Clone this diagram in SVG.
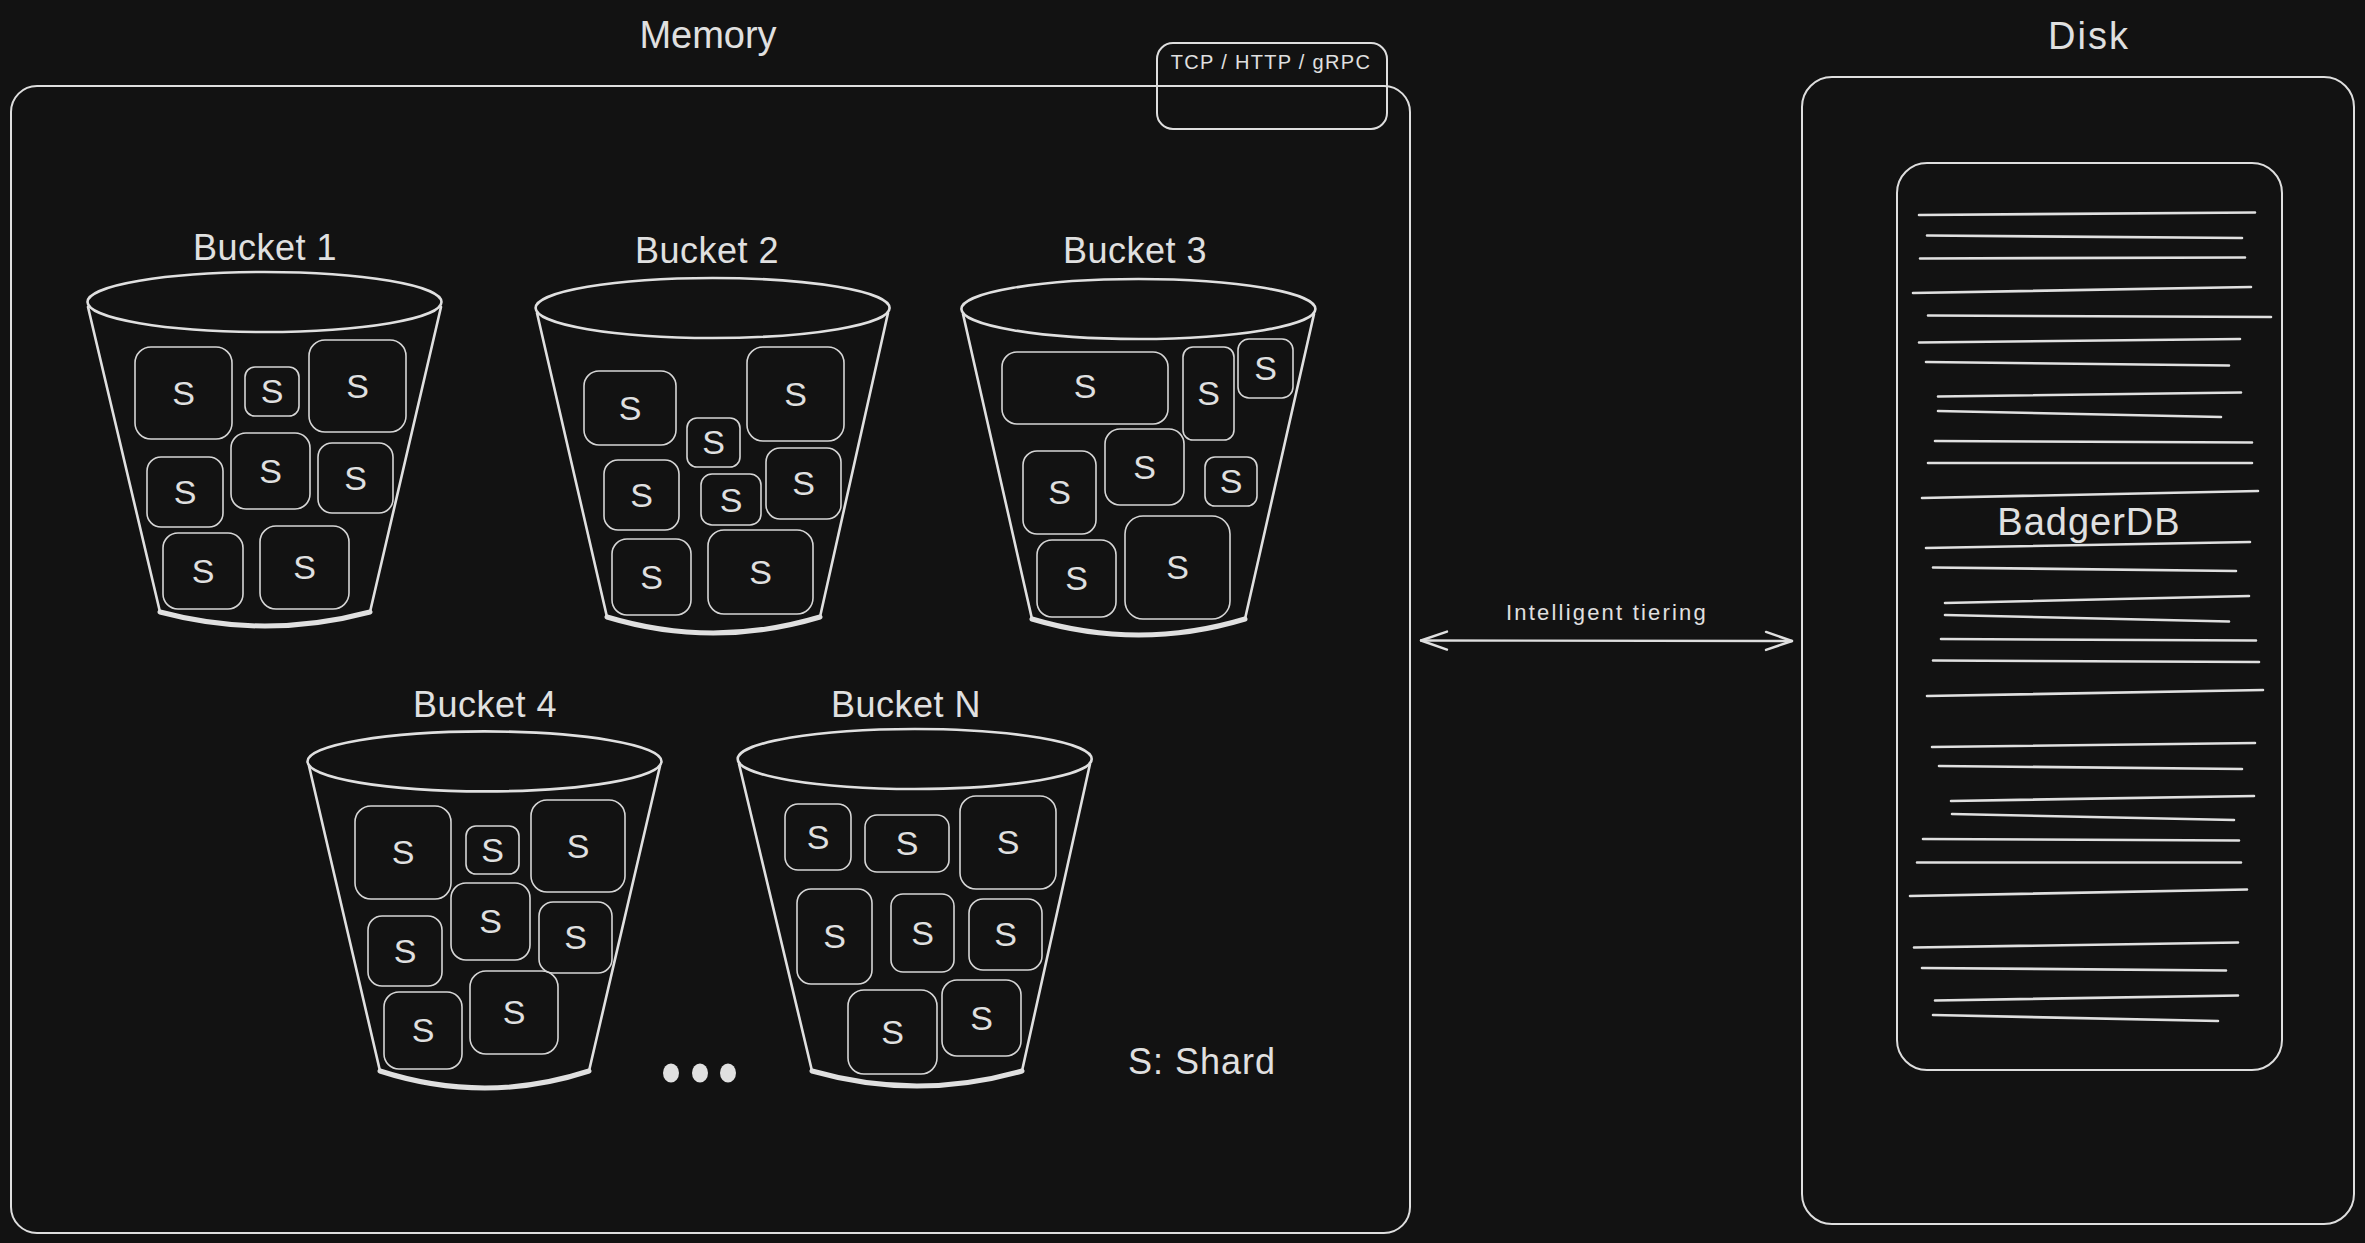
<svg xmlns="http://www.w3.org/2000/svg" width="2365" height="1243" viewBox="0 0 2365 1243">
<defs>
<style>
.ln{fill:none;stroke:#dedede;stroke-linecap:round;stroke-linejoin:round}
.box{fill:none;stroke:#dedede;stroke-width:2}
.sh{fill:none;stroke:#d6d6d6;stroke-width:1.6}
.bk{fill:none;stroke:#e0e0e0;stroke-width:2.6;stroke-linecap:round}
.bot{fill:none;stroke:#e0e0e0;stroke-width:5;stroke-linecap:round}
.dl{fill:none;stroke:#e0e0e0;stroke-width:2.6;stroke-linecap:round}
text{font-family:"Liberation Sans",Arial,sans-serif;fill:#e0e0e0}
.t{font-size:38px;text-anchor:middle}
.bl{font-size:36px;text-anchor:middle;letter-spacing:0.5px}
.s{font-size:34px;text-anchor:middle}
</style>
<marker id="ah" viewBox="-30 -14 34 28" refX="0" refY="0" markerWidth="34" markerHeight="28" markerUnits="userSpaceOnUse" orient="auto-start-reverse">
<path d="M-26,-9 L0,0 L-26,9" fill="none" stroke="#e0e0e0" stroke-width="2.4" stroke-linecap="round" stroke-linejoin="round"/>
</marker>
</defs>
<rect width="2365" height="1243" fill="#121212"/>

<g id="memory">
<rect class="box" x="11" y="86" width="1399" height="1147" rx="26"/>
<text class="t" x="708" y="48">Memory</text>
</g>

<g id="protocols">
<rect class="box" x="1157" y="43" width="230" height="86" rx="16" stroke-width="2.2"/>
<text x="1271" y="69" font-size="20" text-anchor="middle" letter-spacing="1.3">TCP / HTTP / gRPC</text>
</g>

<g id="bucket1">
<text class="bl" x="265" y="260">Bucket 1</text>
<ellipse class="bk" cx="264.5" cy="302" rx="177" ry="30"/>
<path class="bk" d="M88,307 L160,612 M441,307 L370,612"/>
<path class="bot" d="M160,612 Q265,640 370,612"/>
<rect class="sh" x="135" y="347" width="97" height="92" rx="16"/><text class="s" x="183.5" y="405">S</text>
<rect class="sh" x="245" y="367" width="54" height="49" rx="10"/><text class="s" x="272" y="403">S</text>
<rect class="sh" x="309" y="340" width="97" height="92" rx="16"/><text class="s" x="357.5" y="398">S</text>
<rect class="sh" x="147" y="457" width="76" height="70" rx="14"/><text class="s" x="185" y="504">S</text>
<rect class="sh" x="231" y="433" width="79" height="76" rx="15"/><text class="s" x="270.5" y="483">S</text>
<rect class="sh" x="318" y="443" width="75" height="70" rx="14"/><text class="s" x="355.5" y="490">S</text>
<rect class="sh" x="163" y="533" width="80" height="76" rx="15"/><text class="s" x="203" y="583">S</text>
<rect class="sh" x="260" y="526" width="89" height="83" rx="16"/><text class="s" x="304.5" y="579">S</text>
</g>

<g id="bucket2">
<text class="bl" x="707" y="263">Bucket 2</text>
<ellipse class="bk" cx="712.6" cy="308" rx="177" ry="30"/>
<path class="bk" d="M537,313 L607,617 M888,313 L820,617"/>
<path class="bot" d="M607,617 Q713,649 820,617"/>
<rect class="sh" x="584" y="371" width="92" height="74" rx="15"/><text class="s" x="630" y="420">S</text>
<rect class="sh" x="747" y="347" width="97" height="94" rx="16"/><text class="s" x="795.5" y="406">S</text>
<rect class="sh" x="687" y="418" width="53" height="49" rx="10"/><text class="s" x="713.5" y="454">S</text>
<rect class="sh" x="604" y="460" width="75" height="70" rx="14"/><text class="s" x="641.5" y="507">S</text>
<rect class="sh" x="701" y="474" width="60" height="51" rx="11"/><text class="s" x="731" y="512">S</text>
<rect class="sh" x="766" y="448" width="75" height="71" rx="14"/><text class="s" x="803.5" y="495">S</text>
<rect class="sh" x="612" y="539" width="79" height="76" rx="15"/><text class="s" x="651.5" y="589">S</text>
<rect class="sh" x="708" y="530" width="105" height="84" rx="16"/><text class="s" x="760.5" y="584">S</text>
</g>

<g id="bucket3">
<text class="bl" x="1135" y="263">Bucket 3</text>
<ellipse class="bk" cx="1138.4" cy="309" rx="177" ry="30"/>
<path class="bk" d="M963,314 L1032,619 M1314,314 L1245,619"/>
<path class="bot" d="M1032,619 Q1139,651 1245,619"/>
<rect class="sh" x="1002" y="352" width="166" height="72" rx="15"/><text class="s" x="1085" y="398">S</text>
<rect class="sh" x="1183" y="347" width="51" height="93" rx="10"/><text class="s" x="1208.5" y="405">S</text>
<rect class="sh" x="1238" y="339" width="55" height="59" rx="11"/><text class="s" x="1265.5" y="380">S</text>
<rect class="sh" x="1023" y="451" width="73" height="83" rx="14"/><text class="s" x="1059.5" y="504">S</text>
<rect class="sh" x="1105" y="429" width="79" height="76" rx="15"/><text class="s" x="1144.5" y="479">S</text>
<rect class="sh" x="1205" y="457" width="52" height="49" rx="10"/><text class="s" x="1231" y="493">S</text>
<rect class="sh" x="1037" y="540" width="79" height="77" rx="15"/><text class="s" x="1076.5" y="590">S</text>
<rect class="sh" x="1125" y="516" width="105" height="103" rx="18"/><text class="s" x="1177.5" y="579">S</text>
</g>

<g id="bucket4">
<text class="bl" x="485" y="717">Bucket 4</text>
<ellipse class="bk" cx="484.5" cy="761.4" rx="177" ry="30"/>
<path class="bk" d="M309,766 L380,1071 M660,766 L589,1071"/>
<path class="bot" d="M380,1071 Q485,1105 589,1071"/>
<rect class="sh" x="355" y="806" width="96" height="93" rx="16"/><text class="s" x="403" y="864">S</text>
<rect class="sh" x="466" y="826" width="53" height="48" rx="10"/><text class="s" x="492.5" y="862">S</text>
<rect class="sh" x="531" y="800" width="94" height="92" rx="16"/><text class="s" x="578" y="858">S</text>
<rect class="sh" x="368" y="916" width="74" height="70" rx="14"/><text class="s" x="405" y="963">S</text>
<rect class="sh" x="451" y="883" width="79" height="77" rx="15"/><text class="s" x="490.5" y="933">S</text>
<rect class="sh" x="539" y="902" width="73" height="71" rx="14"/><text class="s" x="575.5" y="949">S</text>
<rect class="sh" x="384" y="992" width="78" height="77" rx="15"/><text class="s" x="423" y="1042">S</text>
<rect class="sh" x="470" y="971" width="88" height="83" rx="16"/><text class="s" x="514" y="1024">S</text>
</g>

<g id="bucketN">
<text class="bl" x="906" y="717">Bucket N</text>
<ellipse class="bk" cx="914.7" cy="759" rx="177" ry="30"/>
<path class="bk" d="M739,764 L812,1071 M1090,764 L1022,1071"/>
<path class="bot" d="M812,1071 Q917,1101 1022,1071"/>
<rect class="sh" x="785" y="804" width="66" height="66" rx="13"/><text class="s" x="818" y="849">S</text>
<rect class="sh" x="865" y="815" width="84" height="57" rx="12"/><text class="s" x="907" y="855">S</text>
<rect class="sh" x="960" y="796" width="96" height="93" rx="16"/><text class="s" x="1008" y="854">S</text>
<rect class="sh" x="797" y="889" width="75" height="95" rx="14"/><text class="s" x="834.5" y="948">S</text>
<rect class="sh" x="891" y="894" width="63" height="78" rx="12"/><text class="s" x="922.5" y="945">S</text>
<rect class="sh" x="969" y="899" width="73" height="71" rx="14"/><text class="s" x="1005.5" y="946">S</text>
<rect class="sh" x="848" y="990" width="89" height="84" rx="16"/><text class="s" x="892.5" y="1044">S</text>
<rect class="sh" x="942" y="980" width="79" height="76" rx="15"/><text class="s" x="981.5" y="1030">S</text>
</g>

<g id="ellipsis">
<ellipse cx="671" cy="1073" rx="8" ry="9.5" fill="#e0e0e0"/>
<ellipse cx="700" cy="1073" rx="8" ry="9.5" fill="#e0e0e0"/>
<ellipse cx="728" cy="1073" rx="8" ry="9.5" fill="#e0e0e0"/>
</g>

<g id="legend">
<text x="1128" y="1074" font-size="36" letter-spacing="1">S: Shard</text>
</g>

<g id="disk">
<rect class="box" x="1802" y="77" width="552" height="1147" rx="30"/>
<text class="t" x="2089" y="49" letter-spacing="2">Disk</text>
</g>

<g id="badgerdb">
<rect class="box" x="1897" y="163" width="385" height="907" rx="30" stroke-width="2.2"/>
<path class="dl" d="M1919,215 L2255,212.5 M1927,235.5 L2242,238 M1920,258.5 L2245,257.5 M1913,293 L2251,287 M1928,315.5 L2271,317 M1919,342.5 L2240,339 M1926,362 L2229,365.5 M1938,396.5 L2241,392.5 M1938,411 L2221,417 M1935,441 L2252,442.5 M1928,463 L2252,463 M1922,498 L2258,491 M1926,548 L2250,542 M1933,567.5 L2236,571 M1945,603 L2249,596 M1945,615 L2229,621.5 M1941,639 L2256,640.5 M1933,660.5 L2259,662 M1927,696 L2263,690 M1932,747 L2255,743 M1939,766 L2242,769 M1951,801 L2254,796 M1952,814 L2234,820 M1923,839 L2239,840.5 M1917,862.5 L2241,862.5 M1910,896 L2247,889.5 M1914,947.5 L2238,942.5 M1922,968 L2226,970.5 M1935,1000.5 L2238,995.5 M1933,1015 L2218,1021"/>
<text class="t" x="2089" y="535" letter-spacing="1">BadgerDB</text>
</g>

<g id="connectors">
<path class="ln" d="M1421,640.5 L1792,641" stroke-width="2.4" marker-start="url(#ah)" marker-end="url(#ah)"/>
<text x="1607" y="620" font-size="22" text-anchor="middle" letter-spacing="2.2">Intelligent tiering</text>
</g>
</svg>
